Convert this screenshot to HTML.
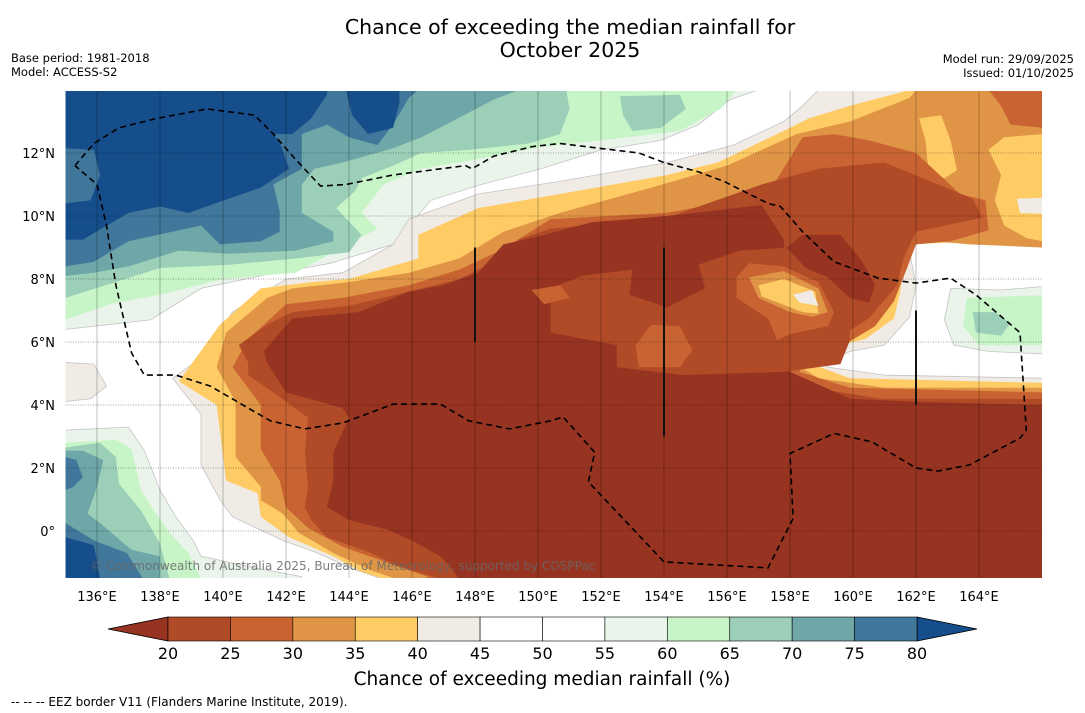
<!DOCTYPE html>
<html><head><meta charset="utf-8">
<style>
html,body{margin:0;padding:0;background:#fff;}
svg{display:block;font-family:"DejaVu Sans","Liberation Sans",sans-serif;}
</style></head>
<body>
<svg id="chart" width="1085" height="713" viewBox="0 0 1085 713" xmlns="http://www.w3.org/2000/svg">
<defs><clipPath id="mapclip"><rect x="65.5" y="91" width="976.5" height="487"/></clipPath></defs>
<text x="570" y="34" text-anchor="middle" font-size="20.5" fill="#000">Chance of exceeding the median rainfall for</text>
<text x="570" y="57" text-anchor="middle" font-size="20.5" fill="#000">October 2025</text>
<text x="11" y="62" font-size="11.5">Base period: 1981-2018</text>
<text x="11" y="76" font-size="11.5">Model: ACCESS-S2</text>
<text x="1074" y="63" font-size="11.5" text-anchor="end">Model run: 29/09/2025</text>
<text x="1074" y="77" font-size="11.5" text-anchor="end">Issued: 01/10/2025</text>
<rect x="65.5" y="91" width="976.5" height="487" fill="#fff"/>
<g id="contours" clip-path="url(#mapclip)"></g>
<g id="grid" clip-path="url(#mapclip)"></g>
<g id="overlay" clip-path="url(#mapclip)"></g>
<text x="90" y="570" font-size="12" fill="#666" fill-opacity="0.85">© Commonwealth of Australia 2025, Bureau of Meteorology, supported by COSPPac</text>
<g id="axes"></g>
<g id="cbar"></g>
<text x="542" y="685" text-anchor="middle" font-size="18.5">Chance of exceeding median rainfall (%)</text>
<text x="11" y="706" font-size="12">--  --  -- EEZ border V11 (Flanders Marine Institute, 2019).</text>
</svg>
<script>
// ---- data ----
var lonTicks = [136,138,140,142,144,146,148,150,152,154,156,158,160,162,164];
var latTicks = [0,2,4,6,8,10,12];
var levels = [20,25,30,35,40,45,50,55,60,65,70,75,80];
var levelColors = ["#973321","#b04a27","#c96432","#e09445","#fecb65","#f0ebe4","#ffffff","#ffffff","#eaf4ea","#c8f5c8","#9ccfb8","#6fa6a8","#41779a","#154e8b"];

var wet55Top = [134,15, 134,6.4, 135,6.4, 137.7,6.7, 139.3,7.7, 141.2,8.1, 143.4,8.5, 145.4,9.1, 146.6,10.5, 148.2,11, 150.1,11.5, 152,12.1, 153.9,12.4, 155.1,12.9, 156.1,13.7, 157,14, 157,15];
var wet60Top = [134,15, 134,6.7, 135,6.7, 136.4,7.2, 138,7.5, 140,8, 142.3,8.2, 144.9,9.6, 144.4,10.1, 145.1,11, 146.3,11.5, 147.8,11.75, 150.1,12.2, 152,12.4, 154.5,12.7, 155.8,13.4, 156.3,14, 156.3,15];
var wet65Top = [134,15, 134,7.4, 135,7.4, 138,8.35, 140.2,8.45, 142.3,8.65, 144,8.85, 144.4,9.4, 143.6,10.25, 144.2,10.8, 144.4,11.2, 145.4,11.6, 146.3,12, 147.8,12.1, 149.7,12.3, 150.7,12.6, 151,13.4, 150.9,14, 150.9,15];
var wet65Blob = [152.6,13.8, 154.5,13.85, 154.7,13.4, 153.9,12.8, 153,12.7, 152.7,13.2];
var wet70Top = [134,15, 134,8.1, 135,8.1, 135.9,8.2, 137,8.4, 138.6,8.9, 140.2,8.8, 142.3,8.9, 143.5,9.2, 143.5,9.5, 142.5,10.1, 142.5,11, 142.9,11.5, 143.8,11.7, 145.4,12.15, 146.3,12.5, 148.6,13.7, 149.4,14, 149.4,15];
var wet75Top = [134,15, 134,8.4, 135,8.4, 135.9,8.55, 137,9.2, 139.3,9.7, 139.9,9.1, 141.2,9.2, 141.8,9.5, 141.8,10.15, 141.6,11, 142.5,11.5, 142.5,12.6, 143.3,12.9, 144,12.5, 144.9,12.25, 145.4,12.9, 145.9,13.75, 146.2,14, 146.2,15];
var wet80Top = [134,15, 134,12.15, 135,12.15, 135.9,12.1, 136.1,11.3, 135.8,10.5, 135,10.4, 134,10.4, 134,9.25, 135,9.25, 135.55,9.25, 137,10.1, 138,10.3, 138.9,10.1, 139.9,10.45, 141.2,10.9, 142.1,11.5, 141.8,12.35, 141.6,12.6, 142.2,12.6, 142.8,13.1, 143.3,13.85, 143.3,15];
var wet80Blob = [143.9,14.5, 143.9,14, 144.1,13.2, 144.6,12.6, 145.4,12.8, 145.6,13.6, 145.6,14.5];
var wet55Bot = [134,-2, 134,3.2, 135,3.2, 137,3.3, 137.5,2.55, 138,1.3, 138.5,0.45, 139.05,-0.3, 139.3,-0.8, 140.9,-1.15, 142.5,-1.45, 142.5,-2];
var wet60Bot = [134,-2, 134,2.8, 135,2.8, 136.6,2.9, 137.1,2.6, 137.4,1.3, 137.8,0.65, 138.3,-0.05, 138.9,-0.7, 139.3,-1.5, 139.3,-2];
var wet65Bot = [134,-2, 134,2.65, 135,2.65, 136.1,2.8, 136.6,2.35, 136.7,1.5, 137.4,0.65, 138,-0.4, 138.3,-1.5, 138.3,-2];
var wet70Bot = [134,-2, 134,2.55, 135,2.55, 135.55,2.55, 136.2,2.25, 136,1.4, 135.7,0.55, 136.1,0.25, 137.1,-0.6, 138,-0.8, 138,-2];
var wet75BotA = [134,2.35, 135,2.35, 135.35,2.25, 135.55,1.7, 135.25,1.4, 135,1.3, 134,1.3];
var wet75BotB = [134,-2, 134,0.25, 135,0.25, 135.9,-0.3, 136.95,-0.7, 137.45,-1.5, 137.45,-2];
var wet80Bot = [134,-2, 134,-0.2, 135,-0.2, 135.9,-0.45, 136.1,-1.5, 136.1,-2];
var dry45Left = [134,5.4, 135.9,5.3, 136.3,4.6, 135.8,4.2, 134,4];

var dry40 = [145.4,-2, 145,-1.5, 144.1,-1.2, 143,-0.7, 141.9,-0.3, 140.3,0.45, 139.9,1, 139.3,2.1, 139.3,3.7, 138.4,4.85, 139.3,5.5, 140.3,6.95, 142,8, 143.8,8.2, 145.4,9.1, 145.9,9.9, 148.1,10.7, 150.7,11.1, 154.1,11.7, 156.2,12.25, 157.8,13, 158.4,13.5, 158.9,14, 158.9,14.5, 166.5,14.5, 166.5,9.2, 166,9.2, 163.1,9.4, 162,9.3, 161.8,8.85, 162,7.8, 161.8,6.8, 161,5.9, 159.9,5.7, 159.2,5.35, 159.2,5.2, 161,4.95, 166,4.85, 166.5,4.85, 166.5,-2];
var dry35 = [145.2,-2, 145.2,-1.55, 144.4,-1.3, 143.5,-0.8, 142.1,-0.2, 141.2,0.45, 141.1,1.2, 140.1,1.6, 139.8,4, 138.6,4.75, 139.9,6.55, 141.2,7.7, 142.8,7.9, 144,8, 146.2,8.65, 146.2,9.4, 148.1,10.25, 150.7,10.7, 154.1,11.3, 155.7,11.7, 158,12.8, 158.6,13.1, 159.9,13.5, 161.8,14, 161.8,14.5, 166.5,14.5, 166.5,9.15, 166,9.15, 164.1,9.2, 161.7,9.1, 161.5,7.6, 161.3,6.75, 160.4,6.1, 159.2,5.8, 158.7,5.3, 159.9,4.85, 166,4.7, 166.5,4.7, 166.5,-2];
var dry30 = [145.6,-2, 145.6,-1.55, 144.7,-1.25, 143.5,-0.7, 142.4,-0.05, 141.9,0.55, 141.2,0.98, 141.2,1.4, 140.4,2.35, 140.4,4.1, 139.8,5.2, 140.1,6.3, 141.4,7.4, 142.2,7.7, 144,7.9, 145.9,8.2, 147.5,8.65, 148.9,9.5, 150.7,10.1, 153.6,10.9, 156,11.6, 158.2,12.6, 159.9,13, 161.8,13.75, 162,14, 162,14.5, 166.5,14.5, 166.5,9, 166,9, 163.7,9.1, 161.4,9.3, 161,7.6, 160.5,6.75, 159.4,6.2, 158.2,5.9, 158.1,5.35, 158.9,4.85, 161,4.55, 166,4.55, 166.5,4.55, 166.5,-2];
var dry35BlobA = [162.1,13.1, 162.8,13.2, 163.1,12.4, 163.3,11.45, 162.9,11.2, 162.4,11.4, 162.3,12.4];
var dry35BlobB = [166.5,12.6, 166,12.6, 164.8,12.5, 164.3,12.1, 164.7,11.3, 164.5,10.5, 164.8,9.7, 165.5,9.3, 166,9.2, 166.5,9.2];
var dry40BlobB = [165.2,10.55, 166.5,10.6, 166.5,10.05, 165.3,10.1];
var dry25Corner = [164.3,14.5, 164.3,14, 164.7,13.5, 165,12.9, 166,12.8, 166.5,12.8, 166.5,14.5];
var dry25 = [146.5,-2, 146.5,-1.45, 145.2,-1, 143.8,-0.5, 142.7,0.1, 142,0.75, 141.8,1.6, 141.2,2.6, 141.2,4, 140.3,5.2, 140.8,6.1, 142,7.2, 143.8,7.4, 145.9,7.8, 147.5,8.3, 148.8,8.9, 150.4,9.9, 154.1,10.1, 157.3,10.7, 158.4,12.5, 159.4,12.6, 160.5,12.4, 162,12, 163.4,10.7, 164.2,10.5, 164.3,9.55, 163.1,9.2, 162,9.1, 161.7,8.3, 161.3,7.3, 160.7,6.5, 159.7,5.9, 158.6,5.6, 158.3,5.05, 159.9,4.55, 166,4.4, 166.5,4.4, 166.5,-2];
var dry20 = [147,-2, 147,-1.55, 145.5,-1.1, 144.7,-0.7, 143.3,-0.2, 142.8,0.35, 142.6,0.75, 142.7,1.4, 142.6,2.5, 142.7,3.6, 141.6,4.4, 140.8,4.95, 140.8,5.35, 140.5,5.9, 141.4,6.55, 142.2,6.95, 144,7.15, 145.9,7.6, 147.5,8, 148.8,8.65, 149.4,9.25, 150.4,9.6, 154.1,9.95, 157.1,11, 158.9,11.5, 161,11.7, 163.8,10.55, 164.1,9.95, 162,9.5, 161.6,8.65, 161.4,7.8, 160.5,6.75, 159.4,6.05, 158,5.75, 157.4,5.05, 159,4.5, 160.9,4.2, 166,4.2, 166.5,4.2, 166.5,-2];
var dry0 = [148,-2, 147.5,-1.55, 147.3,-1.25, 146.9,-0.8, 146,-0.3, 145.2,0.05, 144,0.35, 143.3,0.75, 143.5,1.6, 143.5,2.5, 144,3.6, 143.8,3.9, 142,4.4, 141.4,5.35, 141.3,5.7, 142.2,6.75, 144.3,6.95, 145.9,7.6, 147,7.8, 148.1,8.2, 148.9,9.1, 150.2,9.4, 151.7,9.8, 154.1,10, 157.1,10.35, 157.8,9.25, 158,5.05, 158.9,4.65, 159.9,4.2, 162,4.1, 166,4, 166.5,4, 166.5,-2];
var patch20 = [150.4,7.7, 151.4,8.1, 153,8.3, 152.9,7.5, 154.1,7.1, 155.3,7.7, 155.1,8.45, 156.4,8.9, 158,9, 159.3,8.55, 159.9,7.3, 159.9,6.05, 159.6,5.3, 157.8,5.05, 154.6,4.95, 152.5,5.2, 152.5,5.9, 150.4,6.3];
var patch25a = [153.1,5.9, 153.6,6.55, 154.5,6.5, 154.9,5.75, 154.5,5.2, 153.2,5.2];
var patch25b = [149.8,7.65, 150.7,7.8, 151,7.4, 150.2,7.2];
var blob0 = [157.9,9, 158.4,9.4, 159.6,9.4, 160.3,8.55, 160.7,7.8, 160.5,7.25, 159.9,7.4, 159.2,8.05, 158.5,8.35];
var ring25 = [156.3,8.05, 156.7,8.5, 157.8,8.4, 158.9,7.9, 159.4,6.95, 159.2,6.5, 158,6.25, 157.6,6.05, 157.3,6.75, 156.3,7.4];
var ring30 = [156.7,8.05, 157.8,8.25, 158.9,7.7, 159.2,6.95, 158.7,6.8, 158,6.95, 157,7.4];
var ring35 = [157,7.8, 157.8,8, 158.8,7.6, 158.9,6.9, 158.4,6.95, 157.1,7.45];
var ring40 = [158.1,7.5, 158.7,7.65, 158.9,7.15, 158.3,7.25];
var wet55Right = [163.1,7.7, 164.7,7.65, 166.5,7.8, 166.5,5.6, 164.3,5.7, 163.2,5.9, 162.9,6.7];
var wet60Right = [163.6,7.4, 166.5,7.5, 166.5,5.9, 164,5.9, 163.5,6.5];
var wet65Right = [163.8,6.95, 164.5,6.95, 165,6.6, 164.7,6.2, 163.9,6.3];

var eezLine = [135.3,11.6, 135.9,12.3, 136.7,12.8, 137.9,13.1, 139.5,13.4, 141,13.2, 141.6,12.6, 142.3,11.8, 143.1,10.95, 143.9,11, 145.4,11.3, 147.7,11.6, 147.9,11.5, 148.6,11.9, 149.8,12.2, 150.7,12.3, 153.2,12, 154,11.7, 155.1,11.4, 155.9,11.1, 157.3,10.4, 157.7,10.3, 158.4,9.5, 159.4,8.55, 160.8,8.03, 162,7.87, 163.1,8.03, 163.9,7.5, 165.3,6.3, 165.5,3.2, 165.3,2.95, 163.7,2.1, 162.7,1.9, 162,2, 160.6,2.83, 159.4,3.1, 158,2.46, 158.1,0.4, 157.3,-1.17, 154,-0.98, 151.6,1.56, 151.8,2.5, 150.8,3.62, 150.4,3.5, 149.1,3.24, 147.8,3.5, 146.9,4.03, 145.4,4.03, 143.8,3.43, 142.6,3.24, 141.5,3.5, 140.8,3.9, 139.6,4.6, 138.5,4.95, 137.5,4.95, 137.1,5.65, 136.6,7.8, 136.3,9.7, 136,11, 135.3,11.6];
var pngLines = [[148,6,148,9],[154,3,154,9],[162,4,162,7]];

// ---- axis functions ----
function px(lon){ return 65.5 + (lon-135)*31.5; }
function py(lat){ return 531 - lat*31.5; }
var NS = "http://www.w3.org/2000/svg";
function pts(a){ var s=[]; for(var i=0;i<a.length;i+=2){ s.push(px(a[i]).toFixed(1)+","+py(a[i+1]).toFixed(1)); } return s.join(" "); }
var gC = document.getElementById("contours");
function poly(a, color, name, stroke){
  var p = document.createElementNS(NS,"polygon");
  p.setAttribute("points", pts(a));
  p.setAttribute("fill", color);
  if(stroke){ p.setAttribute("stroke","#c4c4c4"); p.setAttribute("stroke-width","0.8"); }
  
  
  gC.appendChild(p);
}
var C = levelColors;
poly(wet55Top, C[8], "contour-55-60-north", true);
poly(wet60Top, C[9], "contour-60-65-north", false);
poly(wet65Top, C[10], "contour-65-70-north", false);
poly(wet65Blob, C[10], "contour-65-70-blob", false);
poly(wet70Top, C[11], "contour-70-75-north", false);
poly(wet75Top, C[12], "contour-75-80-north", false);
poly(wet80Top, C[13], "contour-above-80-north", false);
poly(wet80Blob, C[13], "contour-above-80-blob", false);
poly(wet55Bot, C[8], "contour-55-60-southwest", true);
poly(wet60Bot, C[9], "contour-60-65-southwest", false);
poly(wet65Bot, C[10], "contour-65-70-southwest", false);
poly(wet70Bot, C[11], "contour-70-75-southwest", false);
poly(wet75BotA, C[12], "contour-75-80-southwest-a", false);
poly(wet75BotB, C[12], "contour-75-80-southwest-b", false);
poly(wet80Bot, C[13], "contour-above-80-southwest", false);
poly(dry45Left, C[5], "contour-40-45-west", true);
poly(dry40, C[5], "contour-40-45", true);
poly(dry35, C[4], "contour-35-40", false);
poly(dry30, C[3], "contour-30-35", false);
poly(dry35BlobA, C[4], "contour-35-40-blob-a", false);
poly(dry35BlobB, C[4], "contour-35-40-blob-b", false);
poly(dry40BlobB, C[5], "contour-40-45-blob", false);
poly(dry25Corner, C[2], "contour-25-30-corner", false);
poly(dry25, C[2], "contour-25-30", false);
poly(dry20, C[1], "contour-20-25", false);
poly(dry0, C[0], "contour-below-20", false);
poly(patch20, C[1], "contour-20-25-patch", false);
poly(patch25a, C[2], "contour-25-30-patch-a", false);
poly(patch25b, C[2], "contour-25-30-patch-b", false);
poly(blob0, C[0], "contour-below-20-blob", false);
poly(ring25, C[2], "contour-25-30-ring", false);
poly(ring30, C[3], "contour-30-35-ring", false);
poly(ring35, C[4], "contour-35-40-ring", false);
poly(ring40, C[5], "contour-40-45-ring", false);
poly(wet55Right, C[8], "contour-55-60-east", true);
poly(wet60Right, C[9], "contour-60-65-east", false);
poly(wet65Right, C[10], "contour-65-70-east", false);

var gG = document.getElementById("grid");
lonTicks.forEach(function(l){
  var ln = document.createElementNS(NS,"line");
  ln.setAttribute("x1",px(l)); ln.setAttribute("x2",px(l)); ln.setAttribute("y1",91); ln.setAttribute("y2",578);
  ln.setAttribute("stroke","#000"); ln.setAttribute("stroke-opacity","0.28"); ln.setAttribute("stroke-width","0.9");
  
  
  gG.appendChild(ln);
});
latTicks.forEach(function(l){
  var ln = document.createElementNS(NS,"line");
  ln.setAttribute("x1",65.5); ln.setAttribute("x2",1042); ln.setAttribute("y1",py(l)); ln.setAttribute("y2",py(l));
  ln.setAttribute("stroke","#000"); ln.setAttribute("stroke-opacity","0.35"); ln.setAttribute("stroke-width","0.9"); ln.setAttribute("stroke-dasharray","1,1.5");
  
  
  gG.appendChild(ln);
});

var gO = document.getElementById("overlay");
var eez = document.createElementNS(NS,"polyline");
eez.setAttribute("points", pts(eezLine));
eez.setAttribute("fill","none"); eez.setAttribute("stroke","#000"); eez.setAttribute("stroke-width","1.6"); eez.setAttribute("stroke-dasharray","6,4");


gO.appendChild(eez);
pngLines.forEach(function(s){
  var ln = document.createElementNS(NS,"line");
  ln.setAttribute("x1",px(s[0])); ln.setAttribute("y1",py(s[1])); ln.setAttribute("x2",px(s[2])); ln.setAttribute("y2",py(s[3]));
  ln.setAttribute("stroke","#111"); ln.setAttribute("stroke-width","2");
  
  
  gO.appendChild(ln);
});

var gA = document.getElementById("axes");
lonTicks.forEach(function(l){
  var t = document.createElementNS(NS,"text");
  t.setAttribute("x",px(l)); t.setAttribute("y",601); t.setAttribute("text-anchor","middle"); t.setAttribute("font-size","13");
  t.textContent = l + "°E";
  
  
  gA.appendChild(t);
});
latTicks.forEach(function(l){
  var t = document.createElementNS(NS,"text");
  t.setAttribute("x",55); t.setAttribute("y",py(l)+5); t.setAttribute("text-anchor","end"); t.setAttribute("font-size","13");
  t.textContent = l===0 ? "0°" : l + "°N";
  
  
  gA.appendChild(t);
});

var gB = document.getElementById("cbar");
var cbX0 = 168, cbX1 = 917, cbY = 617, cbH = 24;
function cx(v){ return cbX0 + (v-levels[0])/(levels[levels.length-1]-levels[0])*(cbX1-cbX0); }
var lt = document.createElementNS(NS,"polygon");
lt.setAttribute("points", "108,"+(cbY+cbH/2)+" "+cbX0+","+cbY+" "+cbX0+","+(cbY+cbH));
lt.setAttribute("fill", levelColors[0]); lt.setAttribute("stroke","#000"); lt.setAttribute("stroke-width","0.8");


gB.appendChild(lt);
var rt = document.createElementNS(NS,"polygon");
rt.setAttribute("points", "977,"+(cbY+cbH/2)+" "+cbX1+","+cbY+" "+cbX1+","+(cbY+cbH));
rt.setAttribute("fill", levelColors[13]); rt.setAttribute("stroke","#000"); rt.setAttribute("stroke-width","0.8");


gB.appendChild(rt);
for(var i=0;i<levels.length-1;i++){
  var r = document.createElementNS(NS,"rect");
  r.setAttribute("x",cx(levels[i])); r.setAttribute("y",cbY); r.setAttribute("width",cx(levels[i+1])-cx(levels[i])); r.setAttribute("height",cbH);
  r.setAttribute("fill",levelColors[i+1]); r.setAttribute("stroke","#000"); r.setAttribute("stroke-width","0.6");
  
  
  gB.appendChild(r);
}
levels.forEach(function(v){
  var t = document.createElementNS(NS,"text");
  t.setAttribute("x",cx(v)); t.setAttribute("y",659); t.setAttribute("text-anchor","middle"); t.setAttribute("font-size","16");
  t.textContent = v;
  
  
  gB.appendChild(t);
});
</script>
</body></html>
